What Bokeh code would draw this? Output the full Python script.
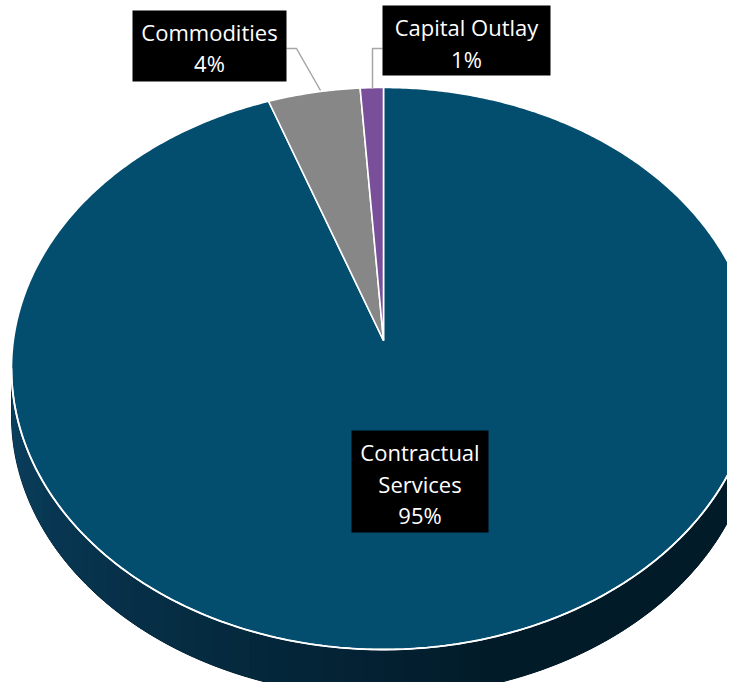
import numpy as np
from bokeh.plotting import figure
from bokeh.models import Range1d
from bokeh.core.properties import value
from bokeh.embed import file_html
from bokeh.resources import INLINE

# ---- data ----
categories = ["Contractual Services", "Commodities", "Capital Outlay"]
percents = [95, 4, 1]
label_texts = ["Contractual\nServices\n95%", "Commodities\n4%", "Capital Outlay\n1%"]

# ---- style / layout ----
top_colors = ["#034D6F", "#878787", "#7A4F9A"]
CX, CY, A, B = 383.0, 368.0, 372.0, 281.0   # rim ellipse (page px)
APEX = (383.0, 340.0)
DEPTH = 47.0

W, H = 727, 682
p = figure(width=W, height=H, output_backend="svg", toolbar_location=None,
           x_range=Range1d(0, W), y_range=Range1d(H, 0),
           min_border=0, outline_line_color=None)
p.axis.visible = False
p.grid.visible = False
p.background_fill_color = "white"
p.border_fill_color = "white"


def rim(theta_deg):
    t = np.radians(theta_deg)
    return CX + A * np.cos(t), CY - B * np.sin(t)


def lerp_color(c1, c2, t):
    a = [int(c1[i:i + 2], 16) for i in (1, 3, 5)]
    b = [int(c2[i:i + 2], 16) for i in (1, 3, 5)]
    return "#%02x%02x%02x" % tuple(int(round(a[k] + (b[k] - a[k]) * t)) for k in range(3))


# side of the pie (front half): dark base then shaded overlapping strips
th_all = np.linspace(180, 360, 240)
xb, yb = rim(th_all)
p.patch(list(xb) + list(xb[::-1]), list(yb) + list((yb + DEPTH)[::-1]),
        fill_color="#021B29", line_color="#021B29", line_width=1)

n = 60
angles = np.linspace(180, 360, n + 1)
xs_side, ys_side, cols = [], [], []
for i in range(n):
    a1 = angles[i]
    a2 = min(360.0, angles[i + 1] + 1.5)  # overlap to hide seams
    th = np.linspace(a1, a2, 5)
    x, y = rim(th)
    xs_side.append(list(x) + list(x[::-1]))
    ys_side.append(list(y) + list((y + DEPTH)[::-1]))
    t = i / (n - 1)
    cols.append(lerp_color("#0A4060", "#021B29", min(1.0, t * 1.7)))
p.patches(xs_side, ys_side, fill_color=cols, line_color=None)

# top slices (clockwise from 12 o'clock)
fr = np.array(percents, dtype=float) / sum(percents)
start = 90.0
for k, f in enumerate(fr):
    end = start - 360.0 * f
    th = np.linspace(start, end, max(4, int(abs(end - start) * 2)))
    x, y = rim(th)
    xs = [APEX[0]] + list(x)
    ys = [APEX[1]] + list(y)
    p.patch(xs, ys, fill_color=top_colors[k], line_color="white", line_width=1.6)
    start = end

# white rim along front edge
th = np.linspace(180, 360, 200)
x, y = rim(th)
p.line(x, y, line_color="white", line_width=1.8)

# leader lines
p.line([286, 296, 320], [48, 48, 90], line_color="#A6A6A6", line_width=1.5)
p.line([382, 372, 372], [48, 48, 88], line_color="#A6A6A6", line_width=1.5)

# label boxes
boxes_left = [351, 132, 382]
boxes_right = [488, 286, 550]
boxes_top = [430, 10, 5]
boxes_bottom = [532, 81, 75]
p.quad(left=boxes_left, right=boxes_right, top=boxes_top, bottom=boxes_bottom,
       fill_color="black", line_color=None)

text_x = [419.5, 209, 466]
text_y = [483, 47, 42.5]
p.text(x=text_x, y=text_y, text=label_texts, text_color="white",
       text_font=value("Open Sans"), text_font_size="22px",
       text_align="center", text_baseline="middle", text_line_height=1.05)

open("out.html", "w").write(file_html(p, INLINE))
